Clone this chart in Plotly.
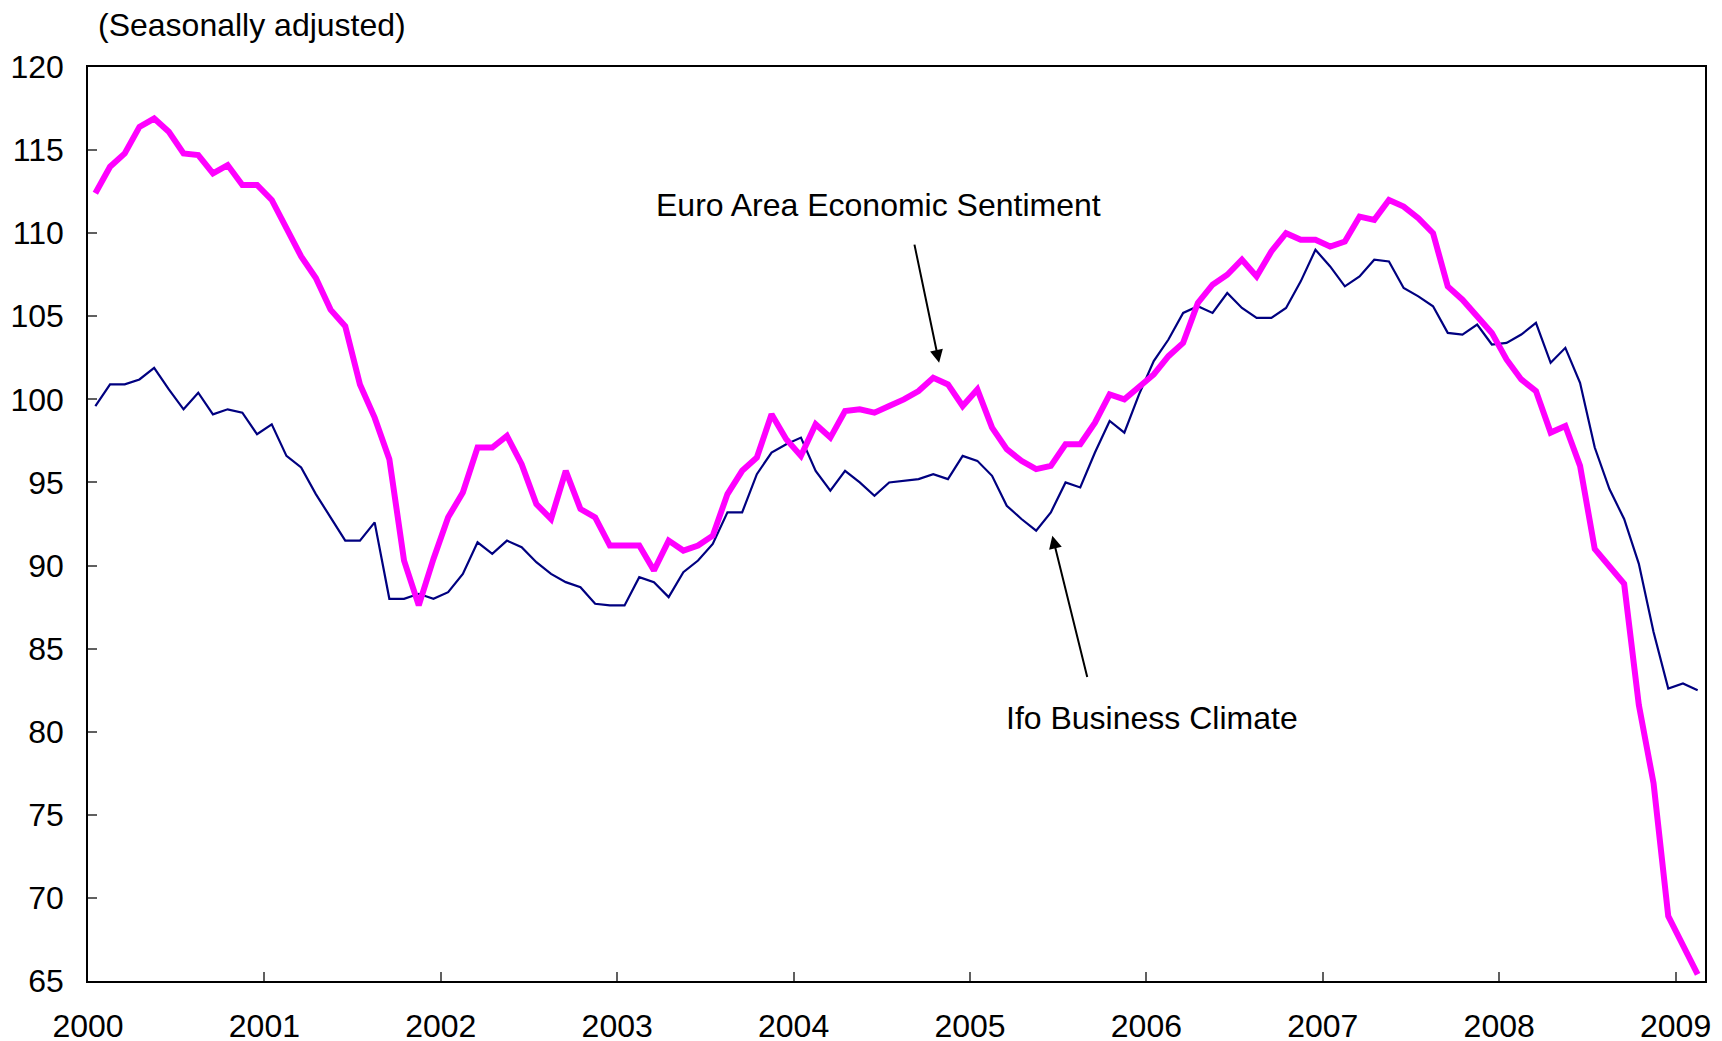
import plotly.graph_objects as go

years = ["2000", "2001", "2002", "2003", "2004", "2005", "2006", "2007", "2008", "2009"]

esi = [
    112.4, 114.0, 114.8, 116.4, 116.9, 116.1, 114.8, 114.7, 113.6, 114.1, 112.9, 112.9,
    112.0, 110.3, 108.6, 107.3, 105.4, 104.4, 100.9, 98.9, 96.4, 90.3, 87.6, 90.4,
    92.9, 94.4, 97.1, 97.1, 97.8, 96.1, 93.7, 92.8, 95.7, 93.4, 92.9, 91.2,
    91.2, 91.2, 89.7, 91.5, 90.9, 91.2, 91.8, 94.3, 95.7, 96.5, 99.1, 97.6,
    96.6, 98.5, 97.7, 99.3, 99.4, 99.2, 99.6, 100.0, 100.5, 101.3, 100.9, 99.6,
    100.6, 98.3, 97.0, 96.3, 95.8, 96.0, 97.3, 97.3, 98.6, 100.3, 100.0, 100.8,
    101.5, 102.6, 103.4, 105.8, 106.9, 107.5, 108.4, 107.4, 108.9, 110.0, 109.6, 109.6,
    109.2, 109.5, 111.0, 110.8, 112.0, 111.6, 110.9, 110.0, 106.8, 106.0, 105.0, 104.0,
    102.4, 101.2, 100.5, 98.0, 98.4, 96.0, 91.0, 90.0, 88.9, 81.6, 76.9, 68.9,
    67.2, 65.4,
]

ifo = [
    99.6, 100.9, 100.9, 101.2, 101.9, 100.6, 99.4, 100.4, 99.1, 99.4, 99.2, 97.9,
    98.5, 96.6, 95.9, 94.3, 92.9, 91.5, 91.5, 92.6, 88.0, 88.0, 88.3, 88.0,
    88.4, 89.5, 91.4, 90.7, 91.5, 91.1, 90.2, 89.5, 89.0, 88.7, 87.7, 87.6,
    87.6, 89.3, 89.0, 88.1, 89.6, 90.3, 91.3, 93.2, 93.2, 95.5, 96.8, 97.3,
    97.7, 95.7, 94.5, 95.7, 95.0, 94.2, 95.0, 95.1, 95.2, 95.5, 95.2, 96.6,
    96.3, 95.4, 93.6, 92.8, 92.1, 93.2, 95.0, 94.7, 96.8, 98.7, 98.0, 100.3,
    102.3, 103.6, 105.2, 105.6, 105.2, 106.4, 105.5, 104.9, 104.9, 105.5, 107.1, 109.0,
    108.0, 106.8, 107.4, 108.4, 108.3, 106.7, 106.2, 105.6, 104.0, 103.9, 104.5, 103.3,
    103.4, 103.9, 104.6, 102.2, 103.1, 101.0, 97.1, 94.6, 92.8, 90.1, 86.0, 82.6,
    82.9, 82.5,
]

x_months = [i + 0.5 for i in range(len(esi))]
FONT = "Liberation Sans, Arial, sans-serif"
FS = 32

fig = go.Figure()
fig.add_trace(go.Scatter(x=x_months, y=ifo, mode="lines",
                         line=dict(color="#000080", width=2.2), name="Ifo Business Climate"))
fig.add_trace(go.Scatter(x=x_months, y=esi, mode="lines",
                         line=dict(color="#FF00FF", width=6), name="Euro Area Economic Sentiment"))

fig.add_annotation(x=57.9, y=102.2, ax=56.2, ay=109.4, xref="x", yref="y", axref="x", ayref="y",
                   text="", showarrow=True, arrowhead=2, arrowsize=1.3, arrowwidth=2, arrowcolor="black")
fig.add_annotation(x=53.8, y=111.7, xref="x", yref="y", text="Euro Area Economic Sentiment",
                   showarrow=False, font=dict(family=FONT, size=FS, color="black"))
fig.add_annotation(x=65.6, y=91.8, ax=68.0, ay=83.2, xref="x", yref="y", axref="x", ayref="y",
                   text="", showarrow=True, arrowhead=2, arrowsize=1.3, arrowwidth=2, arrowcolor="black")
fig.add_annotation(x=72.4, y=80.8, xref="x", yref="y", text="Ifo Business Climate",
                   showarrow=False, font=dict(family=FONT, size=FS, color="black"))
fig.add_annotation(x=0, y=1, xref="paper", yref="paper", xanchor="left", yanchor="middle",
                   xshift=8, yshift=42, text="(Seasonally adjusted)", showarrow=False,
                   font=dict(family=FONT, size=FS, color="black"))

fig.update_layout(
    width=1722, height=1041,
    margin=dict(l=80, r=25, t=59, b=68),
    paper_bgcolor="white", plot_bgcolor="white",
    showlegend=False,
    font=dict(family=FONT, size=FS, color="black"),
)
fig.update_xaxes(range=[0, 110], tickvals=[12 * i for i in range(len(years))], ticktext=years,
                 ticks="inside", ticklen=9, tickcolor="#606060", tickwidth=1.5,
                 showline=True, linecolor="black", linewidth=1.5, mirror=True,
                 showgrid=False, zeroline=False, ticklabelstandoff=16, automargin=False)
fig.update_yaxes(range=[65, 120], tickvals=list(range(65, 121, 5)),
                 ticks="inside", ticklen=9, tickcolor="#606060", tickwidth=1.5,
                 showline=True, linecolor="black", linewidth=1.5, mirror=True,
                 showgrid=False, zeroline=False, ticklabelstandoff=16, automargin=False)

fig.write_html("out.html")
